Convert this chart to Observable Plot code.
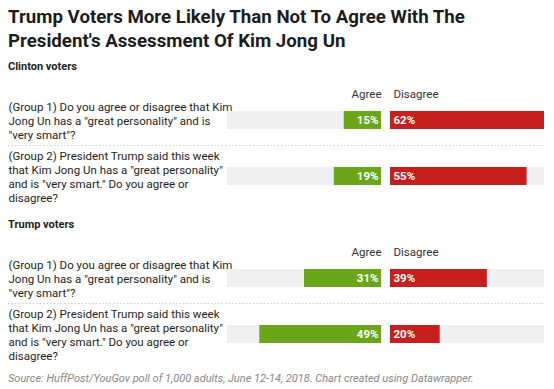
<!DOCTYPE html>
<html>
<head>
<meta charset="utf-8">
<script src="https://cdn.jsdelivr.net/npm/d3@7"></script>
<script src="https://cdn.jsdelivr.net/npm/@observablehq/plot@0.6"></script>
<style>
  html, body { margin: 0; padding: 0; background: #fff; }
  #chart { width: 554px; font-family: Roboto, sans-serif; color: #222; }
  .title { font-size: 18.7px; font-weight: 700; line-height: 24px; padding: 5px 8px 0 8px; color: #1d1d1d; }
  .section { font-size: 11px; font-weight: 700; line-height: 12px; padding-left: 8px; color: #222; }
  .source { font-size: 11px; font-style: italic; line-height: 14px; padding: 1px 8px 0 8px; color: #888; }
  svg { display: block; }
</style>
</head>
<body>
<div id="chart">
  <div class="title">Trump Voters More Likely Than Not To Agree With The President's Assessment Of Kim Jong Un</div>
  <div class="section" style="margin-top:8px">Clinton voters</div>
  <div id="clinton"></div>
  <div class="section" style="margin-top:6px">Trump voters</div>
  <div id="trump"></div>
  <div class="source">Source: HuffPost/YouGov poll of 1,000 adults, June 12-14, 2018. Chart created using Datawrapper.</div>
</div>
<script>
const questions = [
  "(Group 1) Do you agree or disagree that Kim\nJong Un has a \"great personality\" and is\n\"very smart\"?",
  "(Group 2) President Trump said this week\nthat Kim Jong Un has a \"great personality\"\nand is \"very smart.\" Do you agree or\ndisagree?"
];
const columns = ["Agree", "Disagree"];
const clintonAgree = [15, 19];
const clintonDisagree = [62, 55];
const trumpAgree = [31, 49];
const trumpDisagree = [39, 20];

const maxValue = d3.max([...clintonAgree, ...clintonDisagree, ...trumpAgree, ...trumpDisagree]);

const GREEN = "#6aa617";
const RED = "#c71e1e";
const BG = "#f0f0f0";
const GAP = 4.5;
const INSET = 19;

function section(agree, disagree) {
  const rows = questions.map((q, i) => ({q, agree: agree[i], disagree: disagree[i]}));
  return Plot.plot({
    width: 554,
    height: 140,
    marginTop: 19,
    marginBottom: 9,
    marginLeft: 8,
    marginRight: 10,
    x: {domain: [-maxValue, maxValue], range: [231.5, 539.5], axis: null},
    y: {domain: questions, axis: null, padding: 0},
    style: {fontFamily: "Roboto, sans-serif", fontSize: "12px", color: "#222", background: "#fff"},
    marks: [
      Plot.ruleY(questions.slice(1), {dy: -31, stroke: "#cfcfcf", strokeDasharray: "1.5,2", strokeWidth: 1}),
      // background tracks
      Plot.barX(rows, {y: "q", x1: () => -maxValue, x2: () => 0, dx: -GAP, fill: BG, insetTop: INSET, insetBottom: INSET}),
      Plot.barX(rows, {y: "q", x1: () => 0, x2: () => maxValue, dx: GAP, fill: BG, insetTop: INSET, insetBottom: INSET}),
      // values
      Plot.barX(rows, {y: "q", x1: (d) => -d.agree, x2: () => 0, dx: -GAP, fill: GREEN, insetTop: INSET, insetBottom: INSET}),
      Plot.barX(rows, {y: "q", x1: () => 0, x2: (d) => d.disagree, dx: GAP, fill: RED, insetTop: INSET, insetBottom: INSET}),
      // value labels
      Plot.text(rows, {y: "q", x: () => 0, text: (d) => d.agree + "%", dx: -GAP - 3, textAnchor: "end", fill: "#fff", fontWeight: 700, fontSize: 11.5}),
      Plot.text(rows, {y: "q", x: () => 0, text: (d) => d.disagree + "%", dx: GAP + 3, textAnchor: "start", fill: "#fff", fontWeight: 700, fontSize: 11.5}),
      // question labels
      Plot.text(rows, {y: "q", frameAnchor: "left", text: "q", textAnchor: "start", lineAnchor: "middle", lineHeight: 1.22, fill: "#1e1e1e", fontSize: 11.5}),
      // column headers
      Plot.text([columns[0]], {x: () => 0, frameAnchor: "top", text: (d) => d, dx: -GAP, dy: -3, textAnchor: "end", fill: "#333", fontSize: 11.5}),
      Plot.text([columns[1]], {x: () => 0, frameAnchor: "top", text: (d) => d, dx: GAP + 3, dy: -3, textAnchor: "start", fill: "#333", fontSize: 11.5})
    ]
  });
}

document.getElementById("clinton").append(section(clintonAgree, clintonDisagree));
document.getElementById("trump").append(section(trumpAgree, trumpDisagree));
</script>
</body>
</html>
